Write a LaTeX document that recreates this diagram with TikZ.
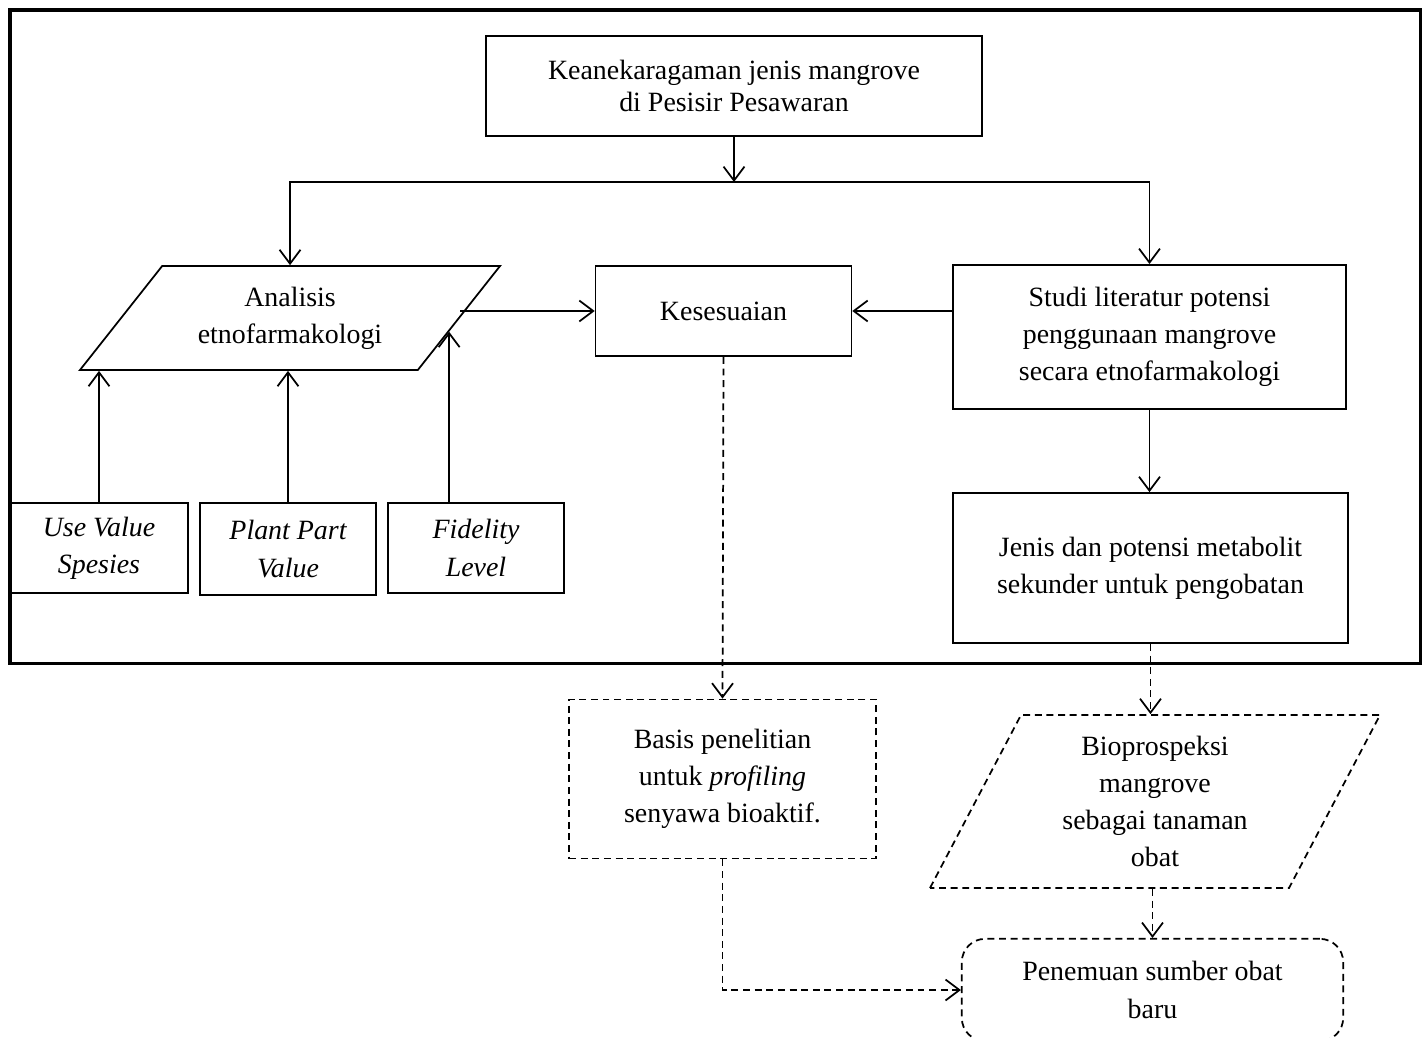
\documentclass[tikz,border=0pt]{standalone}
\usepackage{fontspec}
\setmainfont{Liberation Serif}
\usetikzlibrary{shapes.geometric,arrows.meta,calc}

\begin{document}
\begin{tikzpicture}[x=0.43pt,y=-0.43pt,line width=0.75pt,
  >={Straight Barb[length=6pt,width=9pt]},
  every node/.style={font=\fontsize{12pt}{16pt}\selectfont,align=center},
  kotak/.style={draw,rectangle,inner sep=2pt},
  jajar/.style={draw,trapezium,trapezium stretches body,inner sep=1pt},
  putus/.style={dash pattern=on 3pt off 2pt}]
\useasboundingbox (0,0) rectangle (1426,1037);
% bingkai
\draw[line width=1.3pt] (10,10) rectangle (1420,663);
% kotak utama
\node[kotak,minimum width=213pt,minimum height=43pt,font=\fontsize{12pt}{13.8pt}\selectfont] (ragam) at (734,86) {Keanekaragaman jenis mangrove\\di Pesisir Pesawaran};
\node[jajar,trapezium left angle=39.3,trapezium right angle=140.7,minimum width=180.6pt,minimum height=44.7pt] (analisis) at (290,318) {Analisis\\etnofarmakologi};
\node[kotak,minimum width=110pt,minimum height=38.7pt] (sesuai) at (723.5,311) {Kesesuaian};
\node[kotak,minimum width=169pt,minimum height=62pt] (studi) at (1149.5,337) {Studi literatur potensi\\penggunaan mangrove\\secara etnofarmakologi};
\node[kotak,minimum width=170pt,minimum height=64.5pt] (jenis) at (1150.5,568) {Jenis dan potensi metabolit\\sekunder untuk pengobatan};
% indeks
\node[kotak,minimum width=76.5pt,minimum height=39pt,font=\fontsize{12pt}{16pt}\selectfont\itshape] (uv) at (99,548) {Use Value\\Spesies};
\node[kotak,minimum width=75.7pt,minimum height=39.6pt,font=\fontsize{12pt}{16pt}\selectfont\itshape] (ppv) at (288,549) {Plant Part\\Value};
\node[kotak,minimum width=75.7pt,minimum height=39pt,font=\fontsize{12pt}{16pt}\selectfont\itshape] (fl) at (476,548) {Fidelity\\Level};
% luaran
\node[kotak,putus,minimum width=132pt,minimum height=68.4pt] (basis) at (722.5,779) {Basis penelitian\\untuk \emph{profiling}\\senyawa bioaktif.};
\node[jajar,putus,trapezium left angle=56.2,trapezium right angle=123.8,minimum width=193.5pt,minimum height=74.4pt] (bio) at (1155,801.5) {Bioprospeksi\\mangrove\\sebagai tanaman\\obat};
\node[kotak,putus,rounded corners=10pt,minimum width=164pt,minimum height=44pt] (temu) at (1152.5,990) {Penemuan sumber obat\\baru};
% panah
\coordinate (cabang) at (737,182);
\draw[->] (ragam.south) -- (ragam.south |- cabang);
\draw[<->] (analisis.north) |- (cabang) -| (studi.north);
\draw[->] (analisis.east |- sesuai.west) -- (sesuai.west);
\draw[->] (studi.west |- sesuai.east) -- (sesuai.east);
\draw[->] (studi.south) -- (studi.south |- jenis.north);
\draw[->] (uv.north) -- (uv.north |- analisis.south);
\draw[->] (ppv.north) -- (ppv.north |- analisis.south);
\coordinate (sisi) at ($(analisis.bottom right corner)!0.37!(analisis.top right corner)$);
\draw[->] (fl.north -| sisi) -- (sisi);
% panah putus
\draw[putus,->] (sesuai.south) -- (basis.north);
\draw[putus,->] (jenis.south) -- (jenis.south |- bio.north);
\draw[putus,->] (temu.north |- bio.south) -- (temu.north);
\draw[putus,->] (basis.south) |- (temu.west);
\end{tikzpicture}
\end{document}
